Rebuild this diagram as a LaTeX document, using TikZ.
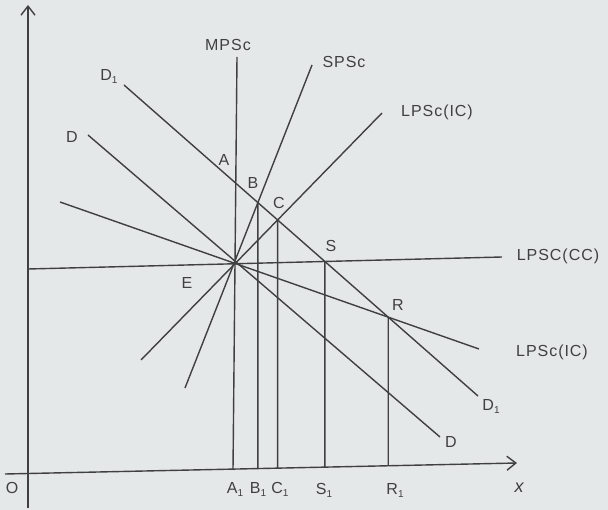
\documentclass[tikz,border=0pt]{standalone}
\usepackage{fontspec}
\setmainfont{Liberation Sans}[LetterSpace=6]
\usetikzlibrary{arrows.meta}
\definecolor{ink}{HTML}{404040}
\definecolor{bg}{HTML}{E4E8E9}
\newcommand{\sub}[1]{\raisebox{-3pt}{\fontsize{10}{10}\selectfont #1}}
\begin{document}
\begin{tikzpicture}[x=1pt,y=-1pt,
  ln/.style={draw=ink, line width=1.4pt},
  lbl/.style={font=\fontsize{16}{18}\selectfont, text=ink, inner sep=0pt}]
\fill[bg] (0,0) rectangle (608,510);
\useasboundingbox (0,0) rectangle (608,510);
% axes
\coordinate (ybot) at (28,508);
\coordinate (ytop) at (28,5);
\coordinate (xl) at (5,474);
\coordinate (xr) at (517,463);
\draw[ln,-{Straight Barb[length=9pt,width=14pt]}] (ybot) -- (ytop);
\draw[ln,-{Straight Barb[length=9pt,width=14pt]}] (xl) -- (xr);
% curve end points
\coordinate (E) at (235,263);
\coordinate (mtop) at (237,57);
\coordinate (mbot) at (233,470);
\coordinate (s1) at (185,388);
\coordinate (s2) at (312,65);
\coordinate (li1) at (141,360);
\coordinate (li2) at (382,113);
\coordinate (lf1) at (60,202);
\coordinate (lf2) at (479,349);
\coordinate (lc1) at (28,269);
\coordinate (lc2) at (502,257);
\coordinate (d11) at (124,85);
\coordinate (d12) at (478,396);
\coordinate (d1) at (88,135);
\coordinate (d2) at (440,437);
% lines
\draw[ln] (mtop) -- (mbot);
\draw[ln] (s1) -- (s2);
\draw[ln] (li1) -- (li2);
\draw[ln] (lf1) -- (lf2);
\draw[ln] (lc1) -- (lc2);
\draw[ln] (d11) -- (d12);
\draw[ln] (d1) -- (d2);
% intersections
\coordinate (A) at (intersection of mtop--mbot and d11--d12);
\coordinate (B) at (intersection of s1--s2 and d11--d12);
\coordinate (C) at (intersection of li1--li2 and d11--d12);
\coordinate (S) at (intersection of lc1--lc2 and d11--d12);
\coordinate (R) at (intersection of lf1--lf2 and d11--d12);
\foreach \p in {B,C,S,R}{
  \coordinate (\p dn) at (\p |- 0,500);
  \coordinate (\p foot) at (intersection of \p--\p dn and xl--xr);
  \draw[ln] (\p) -- (\p foot);
}
% labels
\node[lbl] (lmp) at (228,45) {MPSc};
\node[lbl] (lsp) at (344,62) {SPSc};
\node[lbl] (lli) at (437,112) {LPSc(IC)};
\node[lbl] (llc) at (558,256) {LPSC(CC)};
\node[lbl] (llf) at (552,352) {LPSc(IC)};
\node[lbl] (ld1a) at (109,77) {D\sub{1}};
\node[lbl] (ld1b) at (491,406) {D\sub{1}};
\node[lbl] (lda) at (72,137) {D};
\node[lbl] (ldb) at (451,442) {D};
\node[lbl] (lA) at (224,160) {A};
\node[lbl] (lB) at (253,183) {B};
\node[lbl] (lC) at (279,203) {C};
\node[lbl] (lS) at (331,246) {S};
\node[lbl] (lR) at (398,305) {R};
\node[lbl] (lE) at (187,283) {E};
\node[lbl] (lO) at (12,488) {O};
\node[lbl,font=\fontsize{18}{20}\selectfont\itshape] (lx) at (519,488) {x};
\node[lbl] (lA1) at (235,489) {A\sub{1}};
\node[lbl] (lB1) at (258,489) {B\sub{1}};
\node[lbl] (lC1) at (280,489) {C\sub{1}};
\node[lbl] (lS1) at (324,490) {S\sub{1}};
\node[lbl] (lR1) at (395,490) {R\sub{1}};
\end{tikzpicture}
\end{document}
